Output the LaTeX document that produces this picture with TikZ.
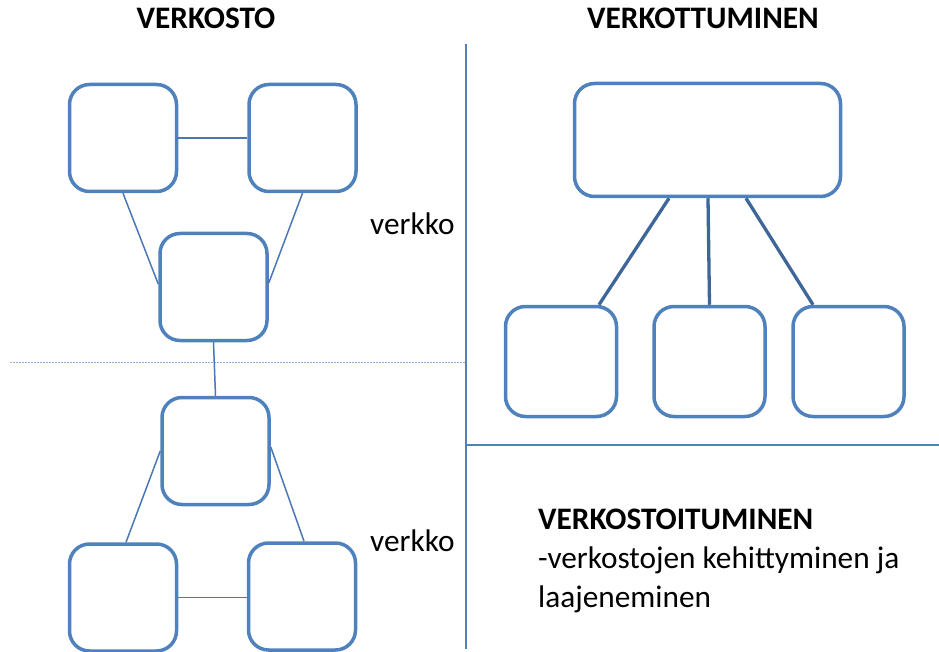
\documentclass[tikz,border=0pt]{standalone}
\usepackage{fontspec}
\setmainfont{Carlito}
\definecolor{boxblue}{HTML}{4F81BD}
\definecolor{linkblue}{HTML}{4A78B4}
\definecolor{treeblue}{HTML}{3F6698}
\definecolor{dotblue}{HTML}{8DB0DC}
\begin{document}
\begin{tikzpicture}[x=1pt,y=-1pt,
  card/.style={draw=boxblue,line width=3.5pt,rounded corners=20pt,fill=white,
    minimum width=#1,minimum height=107pt,inner sep=0pt},
  card/.default=107pt,
  link/.style={draw=linkblue,line width=1.5pt},
  treelink/.style={draw=treeblue,line width=3.3pt},
  divider/.style={draw=boxblue,line width=1.8pt},
  label/.style={font=\fontsize{31.3}{37}\selectfont,inner sep=0pt},
  heading/.style={font=\fontsize{31.3}{37}\selectfont\bfseries,inner sep=0pt}]
\useasboundingbox (0,0) rectangle (939,652);

% dividers
\coordinate (vtop) at (466,44);
\coordinate (vbot) at (466,649);
\coordinate (hleft) at (466,445);
\coordinate (hright) at (939,445);
\coordinate (dleft) at (10,362);
\coordinate (dright) at (465,362);
\draw[divider] (vtop) -- (vbot);
\draw[divider] (hleft) -- (hright);
\draw[dotblue,line width=1pt,dash pattern=on 2pt off 1pt] (dleft) -- (dright);

% headings
\node[heading,anchor=base] (h1) at (206,29) {VERKOSTO};
\node[heading,anchor=base] (h2) at (703,29) {VERKOTTUMINEN};

% upper network
\node[card] (tl) at (123,138) {};
\node[card] (tr) at (302.5,138) {};
\node[card] (mid) at (213.5,287) {};
% lower network
\node[card] (low) at (215.5,451) {};
\node[card] (bl) at (123,597.5) {};
\node[card] (br) at (302,596.5) {};

\draw[link] (tl.east) -- (tr.west);
\draw[link] (tl.south) -- ([yshift=3pt]mid.west);
\draw[link] (tr.south) -- ([yshift=4pt]mid.east);
\draw[link] (mid.south) -- (low.north);
\draw[link] (low.west) -- ([xshift=3pt]bl.north);
\draw[link] ([yshift=4pt]low.east) -- ([xshift=2pt]br.north);
\draw[link] (bl.east) -- (bl.east -| br.west);

\node[label,anchor=base west] (v1) at (370,235) {verkko};
\node[label,anchor=base west] (v2) at (370,551) {verkko};

% hierarchy
\node[card=266pt,minimum height=113pt] (top) at (707.5,140) {};
\node[card=111pt,minimum height=110pt] (c1) at (561,361.5) {};
\node[card=111pt,minimum height=110pt] (c2) at (709.5,361.5) {};
\node[card=111pt,minimum height=110pt] (c3) at (848.5,361.5) {};
\draw[treelink] ([xshift=-38.5pt]top.south) -- ([xshift=38pt]c1.north);
\draw[treelink] ([xshift=0.5pt]top.south) -- (c2.north);
\draw[treelink] ([xshift=38.5pt]top.south) -- ([xshift=-35.5pt]c3.north);

% description
\node[heading,anchor=base west] (t1) at (538,529) {VERKOSTOITUMINEN};
\node[label,anchor=base west] (t2) at (538,568) {-verkostojen kehittyminen ja};
\node[label,anchor=base west] (t3) at (538,607) {laajeneminen};
\end{tikzpicture}
\end{document}
